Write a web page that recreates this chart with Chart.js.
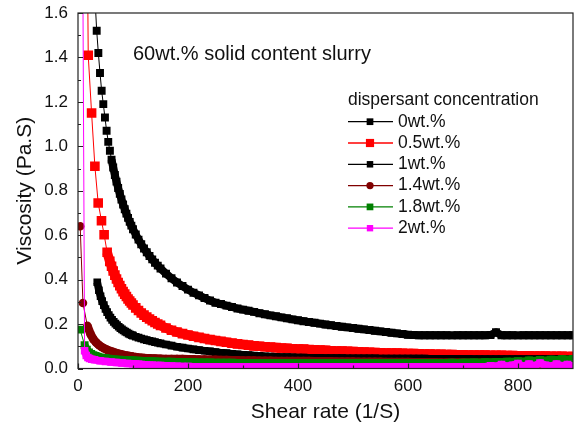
<!DOCTYPE html>
<html>
<head>
<meta charset="utf-8">
<script src="https://cdn.jsdelivr.net/npm/chart.js@4.4.0/dist/chart.umd.min.js"></script>
<style>
    html, body { margin: 0; padding: 0; background: #fff; }
    #wrap { width: 576px; height: 427px; }
</style>
</head>
<body>
<div id="wrap"><canvas id="viscosityChart" width="576" height="427"></canvas></div>
<script>
// Ejes
const xTicks = [0, 200, 400, 600, 800];
const yTicks = [0, 0.2, 0.4, 0.6, 0.8, 1.0, 1.2, 1.4, 1.6];

// Tramo común de velocidades de cizalla (1/S)
const tailRate = [
    100, 105, 110, 115, 120, 125, 130, 135, 140, 145,
    150, 160, 170, 180, 190, 200, 210, 220, 230, 240,
    250, 260, 270, 280, 290, 300, 310, 320, 330, 340,
    350, 360, 370, 380, 390, 400, 410, 420, 430, 440,
    450, 460, 470, 480, 490, 500, 510, 520, 530, 540,
    550, 560, 570, 580, 590, 600, 610, 620, 630, 640,
    650, 660, 670, 680, 690, 700, 710, 720, 730, 740,
    750, 760, 770, 780, 790, 800, 810, 820, 830, 840,
    850, 860, 870, 880, 890, 900
];

// 0wt.%
const rate0 = [31, 34, 37, 40, 43, 46, 49, 52, 55, 58, 61, 64, 67, 70, 73, 76, 79, 82, 85, 88, 91, 94, 97];
const visc0 = [1.66, 1.52, 1.42, 1.33, 1.25, 1.19, 1.13, 1.07, 1.02, 0.98, 0.94, 0.905, 0.871, 0.841, 0.812, 0.786, 0.761, 0.738, 0.717, 0.697, 0.678, 0.660, 0.643];
const tail0 = [
    0.627, 0.603, 0.580, 0.559, 0.540, 0.523, 0.506, 0.491, 0.476, 0.463,
    0.450, 0.427, 0.406, 0.387, 0.371, 0.355, 0.341, 0.329, 0.317, 0.306,
    0.296, 0.290, 0.283, 0.277, 0.270, 0.265, 0.260, 0.255, 0.249, 0.244,
    0.239, 0.235, 0.230, 0.226, 0.221, 0.217, 0.213, 0.209, 0.206, 0.202,
    0.198, 0.195, 0.191, 0.188, 0.185, 0.182, 0.179, 0.176, 0.173, 0.170,
    0.167, 0.164, 0.161, 0.158, 0.155, 0.152, 0.151, 0.150, 0.150, 0.150,
    0.150, 0.150, 0.150, 0.149, 0.150, 0.150, 0.150, 0.150, 0.150, 0.150,
    0.151, 0.163, 0.150, 0.150, 0.150, 0.149, 0.150, 0.150, 0.150, 0.150,
    0.150, 0.150, 0.150, 0.150, 0.150, 0.150
];

// 0.5wt.%
const rate05 = [12.5, 18.6, 24.7, 30.7, 36.7, 42.7, 47.5, 53, 57.8, 61, 64, 67, 70, 73, 76, 79, 82, 85, 88, 91, 94, 97];
const visc05 = [3.3, 1.41, 1.15, 0.91, 0.745, 0.665, 0.602, 0.523, 0.482, 0.460, 0.439, 0.420, 0.403, 0.387, 0.373, 0.359, 0.346, 0.335, 0.324, 0.313, 0.304, 0.295];
const tail05 = [
    0.286, 0.273, 0.261, 0.250, 0.240, 0.231, 0.223, 0.215, 0.207, 0.200,
    0.194, 0.182, 0.172, 0.164, 0.157, 0.151, 0.145, 0.140, 0.135, 0.130,
    0.126, 0.122, 0.118, 0.114, 0.111, 0.108, 0.105, 0.102, 0.100, 0.098,
    0.096, 0.094, 0.092, 0.091, 0.089, 0.088, 0.087, 0.085, 0.084, 0.083,
    0.082, 0.080, 0.079, 0.078, 0.077, 0.076, 0.075, 0.074, 0.073, 0.072,
    0.071, 0.070, 0.070, 0.069, 0.068, 0.067, 0.067, 0.066, 0.065, 0.065,
    0.064, 0.064, 0.063, 0.063, 0.062, 0.062, 0.061, 0.061, 0.060, 0.060,
    0.059, 0.059, 0.059, 0.058, 0.058, 0.057, 0.057, 0.057, 0.056, 0.056,
    0.056, 0.055, 0.055, 0.055, 0.054, 0.054
];

// 1wt.%
const rate1 = [35, 38, 41, 44, 47, 50, 53, 56, 59, 62, 65, 68, 71, 74, 77, 80, 83, 86, 89, 92, 95, 98];
const visc1 = [0.388, 0.352, 0.325, 0.303, 0.285, 0.268, 0.254, 0.241, 0.229, 0.219, 0.210, 0.202, 0.195, 0.188, 0.182, 0.176, 0.171, 0.166, 0.162, 0.157, 0.153, 0.150];
const tail1 = [
    0.148, 0.143, 0.139, 0.135, 0.131, 0.128, 0.125, 0.122, 0.119, 0.116,
    0.113, 0.108, 0.103, 0.098, 0.094, 0.090, 0.086, 0.083, 0.080, 0.077,
    0.074, 0.071, 0.069, 0.066, 0.064, 0.062, 0.060, 0.058, 0.057, 0.055,
    0.054, 0.053, 0.052, 0.051, 0.050, 0.049, 0.049, 0.048, 0.048, 0.048,
    0.047, 0.047, 0.047, 0.047, 0.046, 0.046, 0.046, 0.046, 0.046, 0.046,
    0.045, 0.045, 0.045, 0.045, 0.045, 0.045, 0.045, 0.045, 0.045, 0.044,
    0.044, 0.044, 0.044, 0.044, 0.044, 0.044, 0.044, 0.043, 0.043, 0.043,
    0.043, 0.043, 0.043, 0.043, 0.043, 0.043, 0.042, 0.042, 0.042, 0.042,
    0.042, 0.042, 0.042, 0.041, 0.041, 0.041
];

// 1.4wt.%
const rate14 = [4, 9, 17, 23, 28, 33, 38, 43, 48, 53, 58, 63, 68, 73, 78, 83, 88, 93, 98];
const visc14 = [0.64, 0.295, 0.192, 0.154, 0.132, 0.117, 0.106, 0.097, 0.090, 0.084, 0.079, 0.075, 0.071, 0.067, 0.064, 0.061, 0.058, 0.056, 0.054];
const tail14 = [
    0.053, 0.051, 0.049, 0.048, 0.047, 0.046, 0.046, 0.045, 0.045, 0.044,
    0.044, 0.043, 0.043, 0.042, 0.042, 0.041, 0.041, 0.040, 0.040, 0.039,
    0.039, 0.038, 0.038, 0.037, 0.037, 0.036, 0.036, 0.036, 0.035, 0.035,
    0.035, 0.034, 0.034, 0.034, 0.033, 0.033, 0.033, 0.033, 0.032, 0.032,
    0.032, 0.032, 0.031, 0.031, 0.031, 0.031, 0.030, 0.030, 0.030, 0.030,
    0.030, 0.029, 0.029, 0.029, 0.029, 0.029, 0.028, 0.028, 0.028, 0.028,
    0.028, 0.027, 0.027, 0.027, 0.027, 0.027, 0.026, 0.026, 0.026, 0.026,
    0.026, 0.026, 0.025, 0.025, 0.025, 0.025, 0.025, 0.025, 0.024, 0.024,
    0.024, 0.024, 0.024, 0.024, 0.023, 0.023
];

// 1.8wt.%
const rate18 = [4, 12, 16, 20, 24, 28, 32, 36, 40, 45, 50, 55, 60, 65, 70, 75, 80, 85, 90, 95];
const visc18 = [0.175, 0.105, 0.085, 0.072, 0.065, 0.060, 0.056, 0.053, 0.050, 0.048, 0.046, 0.044, 0.042, 0.041, 0.040, 0.039, 0.038, 0.038, 0.037, 0.037];
const tail18 = [
    0.036, 0.035, 0.035, 0.034, 0.034, 0.033, 0.033, 0.032, 0.032, 0.031,
    0.031, 0.030, 0.030, 0.029, 0.029, 0.028, 0.028, 0.027, 0.027, 0.027,
    0.026, 0.026, 0.026, 0.026, 0.025, 0.025, 0.025, 0.025, 0.025, 0.025,
    0.025, 0.025, 0.025, 0.025, 0.025, 0.025, 0.025, 0.025, 0.025, 0.025,
    0.025, 0.025, 0.025, 0.025, 0.025, 0.025, 0.025, 0.025, 0.025, 0.025,
    0.025, 0.025, 0.025, 0.025, 0.025, 0.025, 0.025, 0.025, 0.025, 0.025,
    0.025, 0.025, 0.025, 0.026, 0.025, 0.026, 0.026, 0.027, 0.026, 0.028,
    0.027, 0.029, 0.028, 0.031, 0.030, 0.033, 0.031, 0.036, 0.034, 0.038,
    0.035, 0.040, 0.038, 0.042, 0.039, 0.043
];

// 2wt.%
const rate2 = [8, 12, 15, 18, 21, 25, 30, 40, 50, 60, 70, 80, 90];
const visc2 = [2.2, 0.080, 0.058, 0.050, 0.045, 0.042, 0.039, 0.035, 0.032, 0.029, 0.027, 0.025, 0.023];
const tail2 = [
    0.021, 0.020, 0.019, 0.018, 0.017, 0.016, 0.015, 0.015, 0.014, 0.013,
    0.013, 0.012, 0.011, 0.010, 0.009, 0.009, 0.008, 0.008, 0.008, 0.008,
    0.008, 0.008, 0.008, 0.008, 0.008, 0.008, 0.008, 0.008, 0.008, 0.008,
    0.008, 0.008, 0.008, 0.008, 0.008, 0.008, 0.008, 0.008, 0.008, 0.008,
    0.008, 0.008, 0.008, 0.008, 0.008, 0.008, 0.008, 0.008, 0.008, 0.008,
    0.008, 0.008, 0.008, 0.008, 0.008, 0.008, 0.008, 0.008, 0.008, 0.008,
    0.008, 0.008, 0.008, 0.008, 0.008, 0.008, 0.008, 0.008, 0.008, 0.008,
    0.012, 0.010, 0.018, 0.010, 0.015, 0.022, 0.010, 0.020, 0.012, 0.025,
    0.015, 0.010, 0.020, 0.012, 0.018, 0.010
];

const FONT = '"Liberation Sans", Arial, sans-serif';
const TEXT_COLOR = '#111';

const series = [
    { label: '0wt.%',   rate: rate0,  visc: visc0,  tail: tail0,  color: '#000000', style: 'rect',   radius: 5.6 },
    { label: '0.5wt.%', rate: rate05, visc: visc05, tail: tail05, color: '#ff0000', style: 'rect',   radius: 6.8 },
    { label: '1wt.%',   rate: rate1,  visc: visc1,  tail: tail1,  color: '#000000', style: 'rect',   radius: 5.4 },
    { label: '1.4wt.%', rate: rate14, visc: visc14, tail: tail14, color: '#800000', style: 'circle', radius: 4.3 },
    { label: '1.8wt.%', rate: rate18, visc: visc18, tail: tail18, color: '#008000', style: 'rect',   radius: 5.6 },
    { label: '2wt.%',   rate: rate2,  visc: visc2,  tail: tail2,  color: '#ff00ff', style: 'rect',   radius: 5.3 }
];

function toPoints(rates, visc) {
    return rates.map((r, i) => ({ x: r, y: visc[i] }));
}

// Lado del marcador en píxeles
function markerSize(s) {
    return s.style === 'circle' ? s.radius * 2 : s.radius * Math.SQRT2;
}

// Donde los marcadores se solapan el trazo se ve como una banda continua
function segmentWidth(s) {
    const band = markerSize(s);
    return ctx => {
        const dx = ctx.p1.x - ctx.p0.x;
        const dy = ctx.p1.y - ctx.p0.y;
        return Math.hypot(dx, dy) < band + 1 ? band : 1;
    };
}

function drawMarker(ctx, style, x, y, radius) {
    ctx.beginPath();
    if (style === 'circle') {
        ctx.arc(x, y, radius, 0, Math.PI * 2);
    } else {
        const half = radius * Math.SQRT1_2;
        ctx.rect(x - half, y - half, half * 2, half * 2);
    }
    ctx.fill();
}

// Sin relleno extra por las etiquetas de los extremos
function fixedBox(size, key) {
    return scale => {
        scale[key] = size;
        scale.paddingTop = 0;
        scale.paddingBottom = 0;
        scale.paddingLeft = 0;
        scale.paddingRight = 0;
    };
}

// Marco y marcas de eje hacia dentro
const framePlugin = {
    id: 'frame',
    afterDatasetsDraw(chart) {
        const { ctx, chartArea: a, scales: { x, y } } = chart;
        ctx.save();
        ctx.strokeStyle = '#222';
        ctx.lineWidth = 1.2;
        ctx.strokeRect(a.left, a.top, a.right - a.left, a.bottom - a.top);
        ctx.beginPath();
        for (let i = 0; i <= 16; i++) {
            const py = Math.round(y.getPixelForValue(i / 10)) + 0.5;
            const len = i % 2 === 0 ? 5 : 3;
            ctx.moveTo(a.left, py);
            ctx.lineTo(a.left + len, py);
        }
        for (let i = 0; i <= 8; i++) {
            const px = Math.round(x.getPixelForValue(i * 100)) + 0.5;
            const len = i % 2 === 0 ? 5 : 3;
            ctx.moveTo(px, a.bottom);
            ctx.lineTo(px, a.bottom - len);
        }
        ctx.stroke();
        ctx.restore();
    }
};

// Título interior y leyenda
const legendPlugin = {
    id: 'insideLegend',
    afterDraw(chart) {
        const { ctx, chartArea: a } = chart;
        ctx.save();
        ctx.fillStyle = TEXT_COLOR;
        ctx.textBaseline = 'middle';
        ctx.textAlign = 'left';
        ctx.font = '20px ' + FONT;
        ctx.fillText('60wt.% solid content slurry', a.left + 55, 54);

        ctx.font = '17.5px ' + FONT;
        ctx.fillText('dispersant concentration', 348, 100);

        series.forEach((s, i) => {
            const rowY = 121.7 + i * 21.3;
            ctx.strokeStyle = s.color;
            ctx.lineWidth = 1.3;
            ctx.beginPath();
            ctx.moveTo(348, rowY);
            ctx.lineTo(393, rowY);
            ctx.stroke();
            ctx.fillStyle = s.color;
            drawMarker(ctx, s.style, 370, rowY, s.radius * 0.85);
            ctx.fillStyle = TEXT_COLOR;
            ctx.fillText(s.label, 398, rowY);
        });
        ctx.restore();
    }
};

document.addEventListener('DOMContentLoaded', function() {
    const ctx = document.getElementById('viscosityChart').getContext('2d');

    new Chart(ctx, {
        type: 'scatter',
        data: {
            datasets: series.map((s, i) => ({
                label: s.label,
                data: toPoints(s.rate.concat(tailRate), s.visc.concat(s.tail)),
                showLine: true,
                borderColor: s.color,
                backgroundColor: s.color,
                borderWidth: 1,
                borderJoinStyle: 'round',
                segment: { borderWidth: segmentWidth(s) },
                pointStyle: s.style,
                pointRadius: s.radius,
                pointBorderWidth: 0,
                pointHoverRadius: s.radius,
                tension: 0,
                order: series.length - i
            }))
        },
        options: {
            responsive: false,
            devicePixelRatio: 1,
            animation: false,
            events: [],
            layout: { autoPadding: false, padding: { top: 13, right: 3, left: 0, bottom: 0 } },
            plugins: {
                legend: { display: false },
                tooltip: { enabled: false }
            },
            scales: {
                x: {
                    type: 'linear',
                    min: 0,
                    max: 900,
                    afterBuildTicks: scale => { scale.ticks = xTicks.map(v => ({ value: v })); },
                    afterFit: fixedBox(58.5, 'height'),
                    grid: { display: false, drawTicks: false },
                    border: { display: false },
                    ticks: {
                        padding: 8,
                        color: TEXT_COLOR,
                        font: { family: FONT, size: 17 },
                        maxRotation: 0
                    },
                    title: {
                        display: true,
                        text: 'Shear rate (1/S)',
                        color: TEXT_COLOR,
                        font: { family: FONT, size: 21 },
                        padding: { top: 0, bottom: 2.4 }
                    }
                },
                y: {
                    type: 'linear',
                    min: 0,
                    max: 1.6,
                    afterBuildTicks: scale => { scale.ticks = yTicks.map(v => ({ value: v })); },
                    afterFit: fixedBox(78, 'width'),
                    grid: { display: false, drawTicks: false },
                    border: { display: false },
                    ticks: {
                        padding: 10,
                        color: TEXT_COLOR,
                        font: { family: FONT, size: 17 },
                        callback: v => v.toFixed(1)
                    },
                    title: {
                        display: true,
                        text: 'Viscosity (Pa.S)',
                        color: TEXT_COLOR,
                        font: { family: FONT, size: 21 },
                        padding: { top: 12.4, bottom: 0 }
                    }
                }
            }
        },
        plugins: [framePlugin, legendPlugin]
    });
});
</script>
</body>
</html>
